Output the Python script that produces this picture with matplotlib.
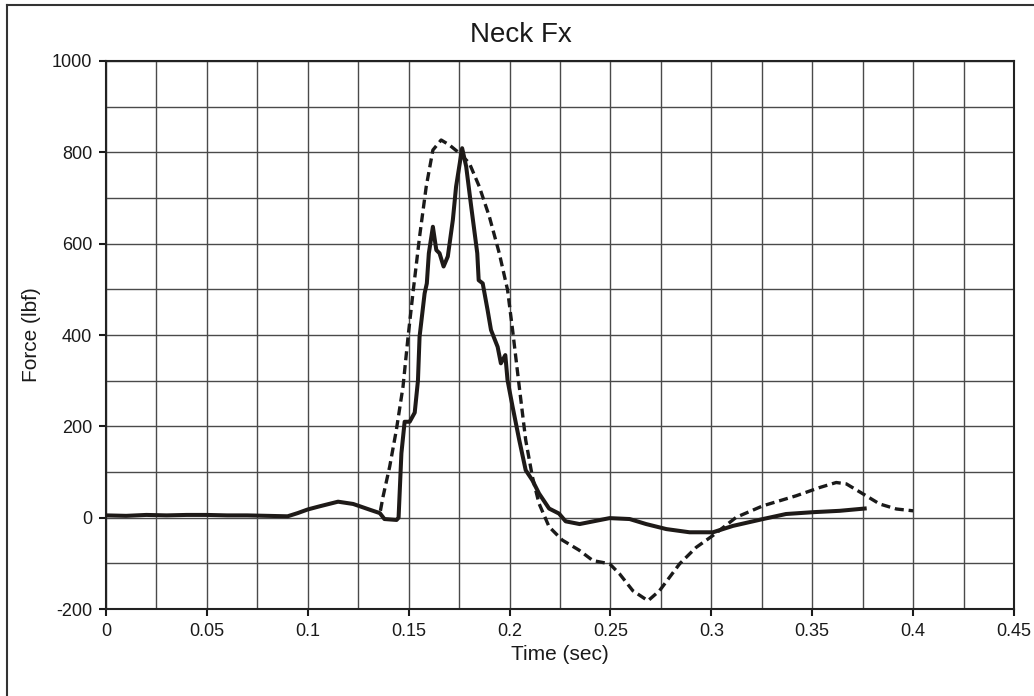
import matplotlib.pyplot as plt
from matplotlib.lines import Line2D
from matplotlib.ticker import MultipleLocator

# measured signal (solid)
measured_t = [0, 0.01, 0.02, 0.03, 0.04, 0.05, 0.06, 0.07, 0.08, 0.09, 0.095, 0.1,
              0.106, 0.115, 0.1225, 0.131, 0.1357, 0.138, 0.144, 0.145, 0.1464, 0.148,
              0.1505, 0.153, 0.1546, 0.1554, 0.1579, 0.159, 0.160, 0.162, 0.1637, 0.1653,
              0.1673, 0.1694, 0.1719, 0.1735, 0.1765, 0.1785, 0.181, 0.184, 0.1847, 0.1867,
              0.1891, 0.1908, 0.1941, 0.1957, 0.1979, 0.199, 0.2015, 0.2048, 0.208, 0.2113,
              0.2146, 0.2196, 0.2245, 0.2278, 0.2347, 0.2496, 0.2595, 0.2677, 0.2777, 0.2892,
              0.3008, 0.3107, 0.3256, 0.337, 0.3504, 0.3636, 0.376]
measured_f = [5, 4, 6, 5, 6, 6, 5, 5, 4, 3, 10, 18,
              25, 35, 30, 17, 10, -3, -5, 0, 141, 210,
              210, 230, 300, 396, 491, 513, 579, 637, 586, 579,
              550, 572, 652, 725, 809, 769, 681, 579, 520, 513,
              455, 411, 374, 338, 356, 301, 243, 170, 104, 82,
              53, 20, 9, -8, -14, -1, -3, -14, -25, -32,
              -32, -18, -3, 8, 12, 15, 20]

# model signal (dashed)
model_t = [0.136, 0.1373, 0.1406, 0.1439, 0.1472, 0.1497, 0.1521, 0.1554, 0.1587, 0.162,
           0.1661, 0.1702, 0.1752, 0.1801, 0.185, 0.19, 0.1949, 0.199, 0.2015, 0.2048,
           0.208, 0.2113, 0.2146, 0.2196, 0.2261, 0.2344, 0.2413, 0.2496, 0.2545, 0.2611,
           0.2686, 0.2743, 0.2843, 0.2925, 0.3008, 0.3124, 0.3256, 0.3421, 0.3537, 0.3619,
           0.3669, 0.3752, 0.3834, 0.3917, 0.4]
model_f = [15, 46, 112, 192, 287, 396, 491, 615, 725, 805,
           827, 816, 798, 776, 725, 659, 579, 499, 411, 287,
           170, 90, 31, -20, -49, -71, -94, -101, -123, -160,
           -182, -160, -101, -65, -39, 1, 26, 48, 66, 77,
           74, 52, 30, 19, 15]

x_ticks = [0, 0.05, 0.1, 0.15, 0.2, 0.25, 0.3, 0.35, 0.4, 0.45]
x_labels = ['0', '0.05', '0.1', '0.15', '0.2', '0.25', '0.3', '0.35', '0.4', '0.45']
y_ticks = [-200, 0, 200, 400, 600, 800, 1000]

plt.rcParams['font.family'] = ['Liberation Sans', 'DejaVu Sans']
plt.rcParams['lines.scale_dashes'] = False
plt.rcParams['axes.unicode_minus'] = False

fig = plt.figure(figsize=(10.34, 6.96), dpi=100)
ax = fig.add_axes([106 / 1034, 87 / 696, 908 / 1034, 548 / 696])

ax.plot(model_t, model_f, color='#1a1a1a', lw=2.4, dashes=(6.5, 3.5), zorder=3)
ax.plot(measured_t, measured_f, color='#1e1a18', lw=2.9, zorder=4)

ax.set_xlim(0, 0.45)
ax.set_ylim(-200, 1000)
ax.set_xticks(x_ticks, x_labels)
ax.set_yticks(y_ticks)
ax.xaxis.set_minor_locator(MultipleLocator(0.025))
ax.yaxis.set_minor_locator(MultipleLocator(100))
ax.grid(which='both', color='#4a4a4a', lw=1.0)
ax.tick_params(which='major', direction='out', length=5, width=1.5, labelsize=13, pad=5, colors='#1a1a1a')
ax.tick_params(which='minor', length=0)
for s in ax.spines.values():
    s.set_linewidth(1.5)
    s.set_color('#222222')

# chart title is centred on the whole chart area, not on the plot area
fig.text(521 / 1034, 1 - 35 / 696, 'Neck Fx', fontsize=20, ha='center', va='center', color='#1a1a1a')
ax.set_xlabel('Time (sec)', fontsize=15, labelpad=4, color='#1a1a1a')
ax.set_ylabel('Force (lbf)', fontsize=15, labelpad=8, color='#1a1a1a')

# outer frame (only top and left edges visible in the crop)
fig.add_artist(Line2D([6.5 / 1034, 1.0], [1 - 5 / 696, 1 - 5 / 696], color='#333333', lw=1.5))
fig.add_artist(Line2D([6.5 / 1034, 6.5 / 1034], [0, 1 - 5 / 696], color='#333333', lw=1.5))

fig.savefig('out.png', dpi=100)
